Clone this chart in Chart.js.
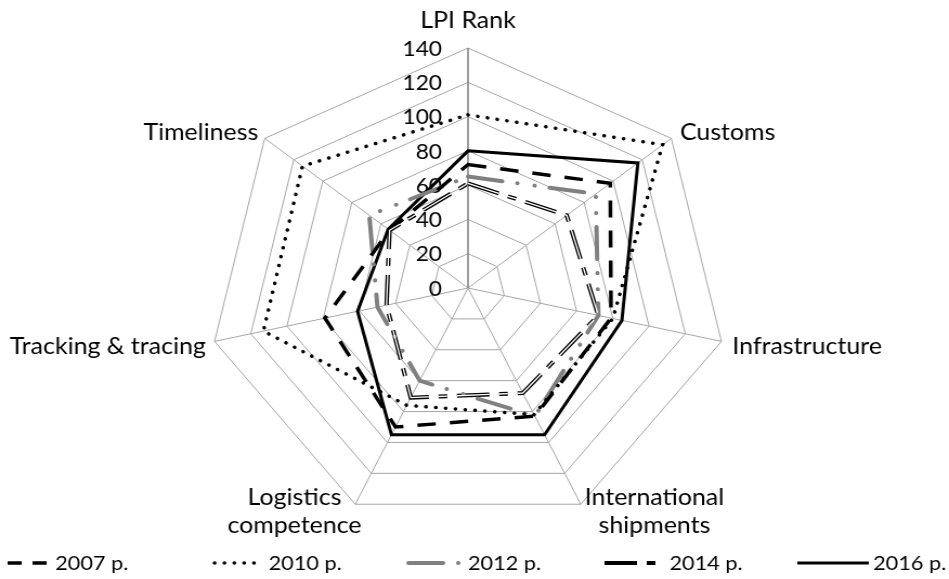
<!DOCTYPE html>
<html>
<head>
<meta charset="utf-8">
<script src="https://cdn.jsdelivr.net/npm/chart.js@4.4.1/dist/chart.umd.min.js"></script>
<style>
    html, body { margin: 0; padding: 0; background: #fff; overflow: hidden; }
    #lpiChart { display: block; }
</style>
</head>
<body>
<!-- the original picture is a little wider than tall, so the canvas is stretched sideways -->
<canvas id="lpiChart" width="876" height="579" style="width:949px;height:579px"></canvas>
<script>
// axes of the radar (clockwise from the top)
const categories = ['LPI Rank', 'Customs', 'Infrastructure', ['International', 'shipments'],
    ['Logistics', 'competence'], 'Tracking & tracing', 'Timeliness'];
const tickValues = [0, 20, 40, 60, 80, 100, 120, 140];
const years = ['2007 p.', '2010 p.', '2012 p.', '2014 p.', '2016 p.'];

const rank2007 = [72, 98, 79, 83, 90, 79, 54];
const rank2010 = [101, 134, 80, 82, 76, 113, 114];
const rank2012 = [65, 88, 72, 83, 60, 50, 68];
const rank2014 = [61, 68, 72, 68, 71, 45, 54];
const rank2016 = [80, 117, 85, 95, 95, 61, 55];

const FONT = 'Lato, "Open Sans", sans-serif';

// line looks, one per year
const styles = [
    { color: '#000', width: 3.5, dash: [17, 13], cap: 'butt' },
    { color: '#000', width: 3.5, dash: [0.1, 9], cap: 'round' },
    { color: '#808080', width: 4, dash: [32, 14, 0.1, 16, 0.1, 14], cap: 'round' },
    { color: '#000', width: 4, dash: [30, 9, 8, 9], cap: 'butt' },
    { color: '#000', width: 3, dash: [], cap: 'butt' }
];

const seriesData = [rank2007, rank2010, rank2012, rank2014, rank2016];

const datasets = seriesData.map((d, i) => ({
    label: years[i],
    data: d,
    borderColor: styles[i].color,
    borderWidth: styles[i].width,
    borderDash: styles[i].dash,
    borderCapStyle: styles[i].cap,
    borderJoinStyle: 'miter',
    fill: false
}));

// thin white core so 2014 looks hollow like the original
datasets.push({
    label: 'core',
    data: rank2014,
    borderColor: '#fff',
    borderWidth: 1.3,
    borderDash: styles[3].dash,
    borderCapStyle: 'butt',
    fill: false,
    order: -1
});

// tick numbers sit under the lines, labels and legend on top
const textPlugin = {
    id: 'textPlugin',
    beforeDatasetsDraw(chart) {
        const ctx = chart.ctx;
        const r = chart.scales.r;
        ctx.save();
        ctx.fillStyle = '#000';
        ctx.font = '21px ' + FONT;
        ctx.textAlign = 'right';
        ctx.textBaseline = 'middle';
        tickValues.forEach(v => {
            ctx.fillText(String(v), r.xCenter - 24, r.yCenter - r.getDistanceFromCenterForValue(v) + 1);
        });
        ctx.restore();
    },
    afterDraw(chart) {
        const ctx = chart.ctx;
        const r = chart.scales.r;
        ctx.save();
        ctx.fillStyle = '#000';
        ctx.font = '23px ' + FONT;
        ctx.textBaseline = 'middle';

        const place = [
            { align: 'center', dx: 0, dy: -27 },
            { align: 'left', dx: 8, dy: -6 },
            { align: 'left', dx: 10, dy: 5 },
            { align: 'center', dx: 68, dy: -7 },
            { align: 'center', dx: -56, dy: -7 },
            { align: 'right', dx: -8, dy: 5 },
            { align: 'right', dx: -6, dy: -6 }
        ];
        categories.forEach((lab, i) => {
            const p = r.getPointPosition(i, r.drawingArea);
            const lines = Array.isArray(lab) ? lab : [lab];
            ctx.textAlign = place[i].align;
            lines.forEach((t, j) => {
                ctx.fillText(t, p.x + place[i].dx, p.y + place[i].dy + j * 28);
            });
        });

        // legend along the bottom
        const starts = [7, 198, 377, 558, 736];
        const sampleW = [36, 42, 48, 55, 66];
        const gaps = [8, 8, 7, 5, 4];
        const legendDash = [[13, 10], null, null, null, null];
        const ly = 563;
        ctx.font = '20px ' + FONT;
        ctx.textAlign = 'left';
        years.forEach((y, i) => {
            const s = styles[i];
            const x0 = starts[i];
            ctx.beginPath();
            ctx.setLineDash(legendDash[i] || s.dash);
            ctx.lineCap = s.cap;
            ctx.strokeStyle = s.color;
            ctx.lineWidth = s.width;
            ctx.moveTo(x0, ly);
            ctx.lineTo(x0 + sampleW[i], ly);
            ctx.stroke();
            ctx.setLineDash([]);
            ctx.fillText(y, x0 + sampleW[i] + gaps[i], ly + 1);
        });
        ctx.restore();
    }
};

new Chart(document.getElementById('lpiChart'), {
    type: 'radar',
    data: { labels: categories, datasets: datasets },
    options: {
        responsive: false,
        animation: false,
        devicePixelRatio: 1,
        layout: { padding: { left: 192, right: 204, top: 48, bottom: 51 } },
        plugins: {
            legend: { display: false },
            tooltip: { enabled: false }
        },
        elements: {
            point: { radius: 0, hoverRadius: 0 },
            line: { tension: 0 }
        },
        scales: {
            r: {
                min: 0,
                max: 140,
                ticks: { stepSize: 20, display: false },
                pointLabels: { display: false },
                grid: { color: '#a6a6a6', lineWidth: 1 },
                angleLines: {
                    color: c => c.index === 0 ? '#858585' : '#a6a6a6',
                    lineWidth: c => c.index === 0 ? 1.6 : 1
                }
            }
        }
    },
    plugins: [textPlugin]
});
</script>
</body>
</html>
